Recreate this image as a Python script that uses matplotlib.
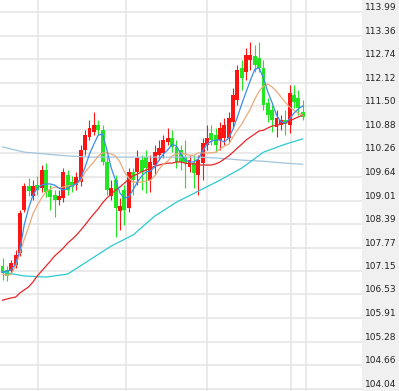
import numpy as np
import matplotlib
matplotlib.use('Agg')
import matplotlib.pyplot as plt
from matplotlib.patches import Rectangle

# daily candles
opens = [107.28, 107.18, 107.15, 107.31, 107.62, 108.76, 109.40, 109.13, 109.42, 109.34,
         109.82, 109.29, 109.16, 109.02, 109.08, 109.69, 109.50, 109.42, 109.50, 110.35,
         110.69, 110.82, 111.00, 110.87, 110.03, 109.13, 109.55, 108.73, 109.29, 108.81,
         109.77, 109.77, 110.08, 110.16, 109.55, 109.95, 110.21, 110.27, 110.56, 110.66,
         110.43, 110.35, 110.16, 109.90, 110.00, 109.69, 110.00, 110.48, 110.79, 110.74,
         110.61, 110.66, 110.66, 111.09, 111.67, 112.51, 112.41, 112.72, 112.83, 112.78,
         112.51, 111.59, 111.40, 110.95, 111.00, 111.14, 111.00, 111.80, 111.72, 111.35]
highs = [107.49, 107.28, 107.44, 107.70, 108.76, 109.47, 109.61, 109.55, 109.66, 109.95,
         110.00, 109.42, 109.29, 109.29, 109.87, 109.82, 109.66, 109.77, 110.48, 110.87,
         111.14, 111.35, 111.14, 111.00, 110.21, 109.55, 109.69, 109.08, 109.42, 109.87,
         109.87, 110.35, 110.21, 110.35, 110.21, 110.48, 110.61, 110.74, 110.93, 110.87,
         110.61, 110.48, 110.61, 110.21, 110.21, 110.21, 110.66, 111.00, 111.00, 110.93,
         111.09, 111.19, 111.35, 111.98, 112.59, 112.72, 113.04, 113.20, 113.12, 113.20,
         112.72, 111.72, 111.53, 111.40, 111.27, 111.40, 112.06, 112.06, 111.93, 111.67]
lows = [106.91, 106.89, 107.07, 107.23, 107.55, 108.71, 109.13, 109.02, 109.16, 109.24,
        109.10, 108.76, 108.58, 108.89, 108.97, 109.16, 109.24, 109.29, 109.40, 110.21,
        110.61, 110.74, 110.74, 109.95, 109.16, 109.02, 108.05, 108.23, 108.37, 108.71,
        109.16, 109.42, 109.29, 109.21, 109.24, 109.69, 110.08, 110.13, 110.48, 110.29,
        109.87, 109.82, 109.34, 109.77, 109.34, 109.16, 109.55, 110.35, 110.48, 110.29,
        110.35, 110.48, 110.56, 110.93, 111.53, 111.93, 112.19, 112.46, 112.41, 112.41,
        111.40, 111.09, 110.82, 110.69, 110.87, 110.74, 110.79, 111.45, 111.27, 111.14]
closes = [107.10, 107.02, 107.36, 107.57, 108.68, 109.40, 109.26, 109.40, 109.29, 109.82,
          109.24, 109.10, 109.02, 109.13, 109.77, 109.29, 109.37, 109.63, 110.35, 110.74,
          110.93, 111.00, 110.87, 110.03, 109.29, 109.34, 108.81, 108.87, 108.76, 109.77,
          109.55, 110.13, 109.77, 109.87, 110.03, 110.29, 110.40, 110.61, 110.66, 110.43,
          110.03, 110.03, 110.00, 110.08, 109.74, 110.08, 110.53, 110.66, 110.61, 110.48,
          110.93, 111.00, 111.19, 111.80, 112.46, 112.25, 112.85, 112.85, 112.59, 112.51,
          111.53, 111.27, 111.14, 111.19, 111.14, 111.03, 111.85, 111.61, 111.45, 111.22]

# moving averages, one value per candle
ma5 = [107.12, 107.15, 107.18, 107.33, 107.70, 108.37, 108.81, 109.16, 109.34, 109.42,
       109.45, 109.45, 109.42, 109.34, 109.29, 109.34, 109.40, 109.45, 109.61, 109.90,
       110.24, 110.50, 110.74, 110.77, 110.35, 109.87, 109.55, 109.21, 109.08, 109.10,
       109.29, 109.50, 109.66, 109.77, 109.79, 109.90, 110.08, 110.24, 110.35, 110.50,
       110.45, 110.24, 110.08, 110.03, 110.03, 110.11, 110.32, 110.50, 110.58, 110.61,
       110.61, 110.56, 110.66, 110.90, 111.22, 111.56, 111.88, 112.19, 112.48, 112.51,
       112.25, 111.88, 111.59, 111.27, 111.09, 111.06, 111.17, 111.32, 111.43, 111.51]
ma10 = [107.07, 107.04, 107.07, 107.28, 107.62, 107.99, 108.31, 108.66, 108.89, 109.08,
        109.24, 109.32, 109.37, 109.34, 109.37, 109.40, 109.40, 109.45, 109.53, 109.77,
        109.90, 110.03, 110.19, 110.27, 110.27, 110.24, 110.19, 110.03, 109.77, 109.61,
        109.50, 109.50, 109.50, 109.53, 109.55, 109.66, 109.84, 109.98, 110.05, 110.19,
        110.24, 110.27, 110.24, 110.21, 110.21, 110.27, 110.27, 110.27, 110.27, 110.29,
        110.37, 110.45, 110.50, 110.69, 110.87, 111.03, 111.24, 111.43, 111.69, 111.90,
        112.04, 112.09, 112.01, 111.90, 111.75, 111.61, 111.48, 111.40, 111.32, 111.27]
ma20 = [106.38, 106.41, 106.44, 106.46, 106.57, 106.65, 106.73, 106.86, 107.02, 107.15,
        107.28, 107.41, 107.55, 107.65, 107.76, 107.89, 107.99, 108.10, 108.23, 108.37,
        108.52, 108.66, 108.79, 108.95, 109.08, 109.18, 109.29, 109.37, 109.47, 109.58,
        109.66, 109.71, 109.77, 109.82, 109.87, 109.92, 109.95, 109.98, 110.00, 110.00,
        110.03, 110.03, 110.00, 109.98, 109.98, 109.95, 109.95, 109.95, 109.95, 109.98,
        110.03, 110.11, 110.19, 110.29, 110.40, 110.50, 110.61, 110.69, 110.77, 110.85,
        110.87, 110.93, 110.98, 111.00, 111.03, 111.06, 111.11, 111.17, 111.22, 111.27]

# slow averages, read every fifth candle
slow_idx = [0, 5, 10, 15, 20, 25, 30, 35, 40, 45, 50, 55, 60, 65, 69]
ma60 = [107.12, 107.02, 106.99, 107.07, 107.44, 107.81, 108.10, 108.60, 108.97, 109.26,
        109.55, 109.87, 110.29, 110.50, 110.64]
ma120 = [110.43, 110.29, 110.24, 110.19, 110.16, 110.16, 110.16, 110.16, 110.16, 110.16,
         110.13, 110.08, 110.05, 110.00, 109.97]

yticks = [113.99, 113.36, 112.74, 112.12, 111.50, 110.88, 110.26, 109.64, 109.01,
          108.39, 107.77, 107.15, 106.53, 105.91, 105.28, 104.66, 104.04]
month_lines = [8.2, 28.4, 47.0, 66.3, 69.8]

RED = '#ff1414'
GREEN = '#22e622'

fig = plt.figure(figsize=(3.99, 3.91), dpi=100)
fig.patches.append(Rectangle((362 / 399, 0), 1 - 362 / 399, 1, transform=fig.transFigure,
                             facecolor='#f0f0f0', edgecolor='none', zorder=-10))
ax = fig.add_axes([0, 0, 362 / 399, 1])
ax.set_facecolor('none')

x = np.arange(len(closes))
o = np.array(opens)
c = np.array(closes)
up = c >= o
colors = np.where(up, RED, GREEN)

ax.vlines(x, lows, highs, colors=colors, linewidth=0.8, zorder=2)
body_bottom = np.minimum(o, c)
body_h = np.maximum(np.abs(c - o), 0.03)
ax.bar(x, body_h, bottom=body_bottom, width=0.9, color=colors, linewidth=0, zorder=3)

ax.plot(slow_idx, ma120, color='#a2c4dc', linewidth=0.9, zorder=4)
ax.plot(slow_idx, ma60, color='#2cc9d2', linewidth=0.9, zorder=4)
ax.plot(x, ma20, color='#e8262a', linewidth=0.9, zorder=5)
ax.plot(x, ma10, color='#e9aa7c', linewidth=0.9, zorder=5)
ax.plot(x, ma5, color='#3a8cf0', linewidth=0.9, zorder=6)

for m in month_lines:
    ax.axvline(m, color='#e4e4e4', linewidth=1.1, zorder=1)

ax.set_xlim(-0.575, 82.65)
ax.set_ylim(103.98, 114.31)
ax.set_xticks([])
ax.set_yticks(yticks)
ax.set_yticklabels(['%.2f' % v for v in yticks])
ax.yaxis.tick_right()
ax.tick_params(axis='y', length=0, pad=2, labelsize=6.5, labelcolor='#222222',
               labelright=True, labelleft=False)
for lbl in ax.get_yticklabels():
    lbl.set_va('bottom')
ax.grid(axis='y', color='#e4e4e4', linewidth=1.1, zorder=1)
ax.set_axisbelow(True)
for s in ax.spines.values():
    s.set_visible(False)

plt.savefig('out.png', dpi=100)
